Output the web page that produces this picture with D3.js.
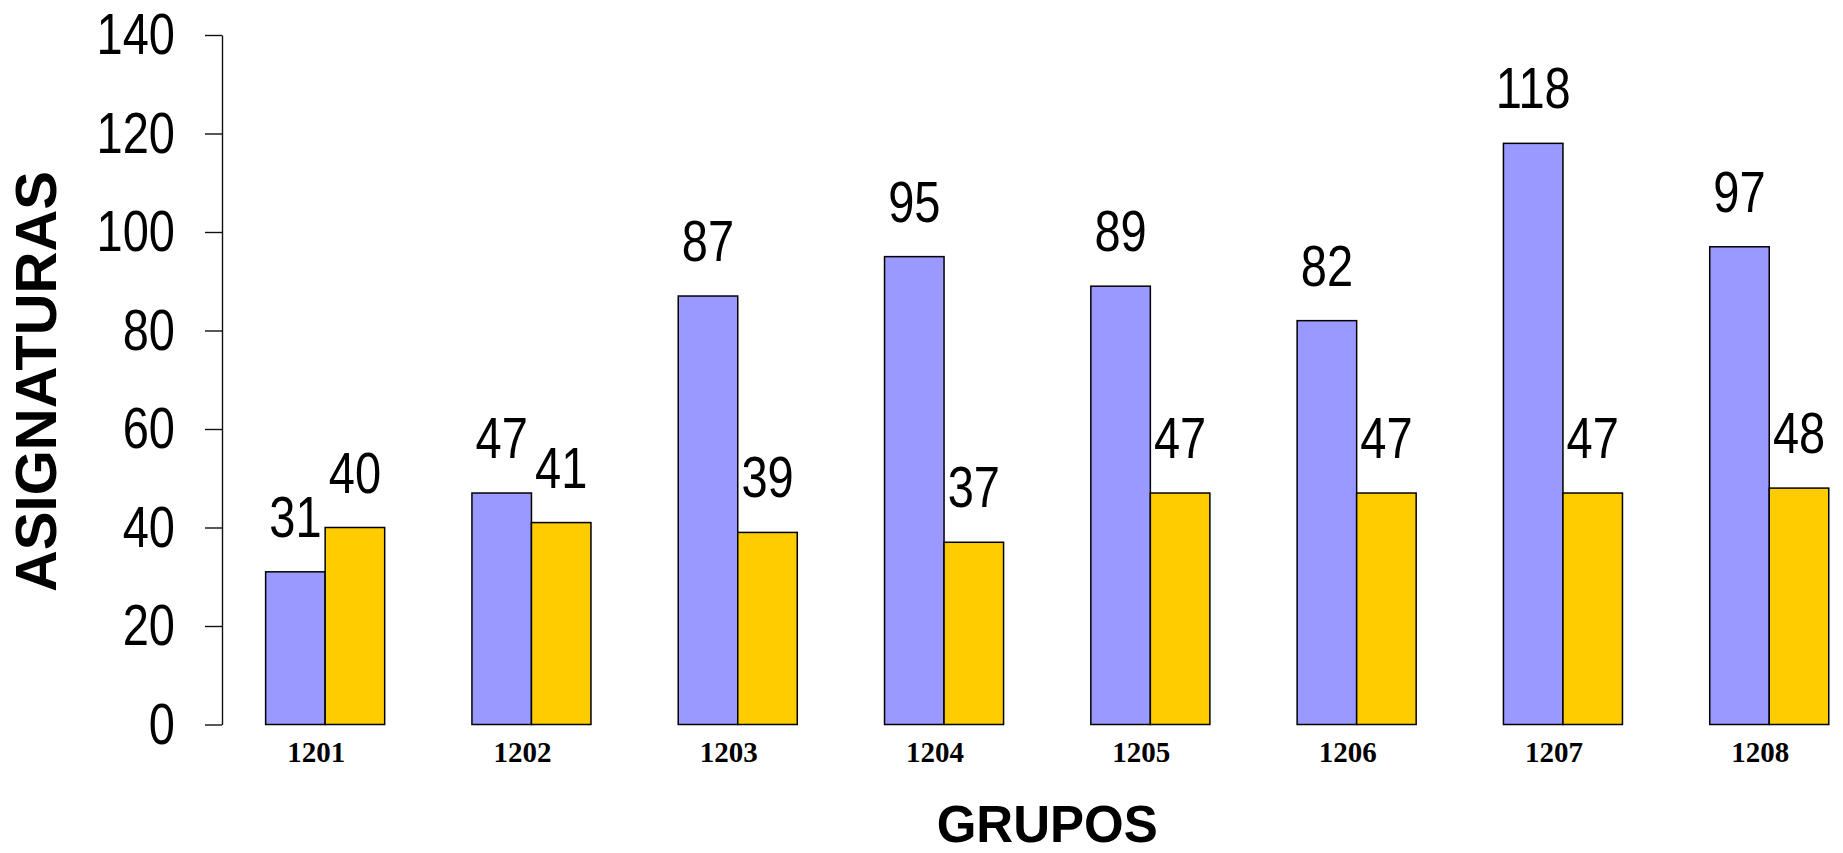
<!DOCTYPE html>
<html>
<head>
<meta charset="utf-8">
<script src="https://cdn.jsdelivr.net/npm/d3@7"></script>
<style>
  html, body { margin: 0; padding: 0; background: #fff; }
  svg { display: block; }
</style>
</head>
<body>
<svg id="chart" width="1843" height="853"></svg>
<script>
const groups = ["1201", "1202", "1203", "1204", "1205", "1206", "1207", "1208"];
const seriesA = [31, 47, 87, 95, 89, 82, 118, 97];
const seriesB = [40, 41, 39, 37, 47, 47, 47, 48];
const yTicks = [0, 20, 40, 60, 80, 100, 120, 140];
const yTitle = "ASIGNATURAS";
const xTitle = "GRUPOS";

const colors = ["#9999FF", "#FFCC00"];
const seriesKeys = ["a", "b"];

const svg = d3.select("#chart");

const x0 = d3.scaleBand().domain(groups).range([222, 1872.4]).paddingInner(0.423).paddingOuter(0.2115);
const x1 = d3.scaleBand().domain(seriesKeys).range([0, x0.bandwidth()]).padding(0);
const y = d3.scaleLinear().domain([0, 140]).range([724.5, 35]);

const rows = groups.map((g, i) => ({ g, vals: [{ k: "a", v: seriesA[i] }, { k: "b", v: seriesB[i] }] }));

// Axis
const yAxis = d3.axisLeft(y).tickValues(yTicks).tickSize(17).tickSizeOuter(0).tickFormat(d3.format("d"));
const ag = svg.append("g").attr("transform", "translate(222,0)").call(yAxis);
ag.select(".domain").attr("stroke", "#111").attr("stroke-width", 1.4);
ag.selectAll(".tick line").attr("stroke", "#111").attr("stroke-width", 1.4);
ag.selectAll(".tick text")
  .attr("x", null).attr("dy", null)
  .attr("transform", "translate(-47,18.5) scale(1,1.21)")
  .attr("fill", "#000")
  .style("font-family", "'Liberation Sans', Arial, sans-serif")
  .style("font-size", "47px")
  .attr("text-anchor", "end");

// Bars
const gGroups = svg.append("g").selectAll("g").data(rows).join("g")
  .attr("transform", d => `translate(${x0(d.g)},0)`);

gGroups.selectAll("rect").data(d => d.vals).join("rect")
  .attr("x", d => x1(d.k))
  .attr("y", d => y(d.v))
  .attr("width", x1.bandwidth())
  .attr("height", d => y(0) - y(d.v))
  .attr("fill", (d, i) => colors[i])
  .attr("stroke", "#000")
  .attr("stroke-width", 1.5);

// Value labels
gGroups.selectAll("text.val").data(d => d.vals).join("text")
  .attr("class", "val")
  .attr("transform", d => `translate(${x1(d.k) + x1.bandwidth() / 2},${y(d.v) - 35}) scale(1,1.21)`)
  .attr("text-anchor", "middle")
  .style("font-family", "'Liberation Sans', Arial, sans-serif")
  .style("font-size", "47px")
  .attr("fill", "#000")
  .text(d => d.v);

// Category labels
svg.append("g").selectAll("text").data(groups).join("text")
  .attr("transform", d => `translate(${x0(d) + x0.bandwidth() / 2 - 9},762) scale(1,1.05)`)
  .attr("text-anchor", "middle")
  .style("font-family", "'Liberation Serif', 'Times New Roman', serif")
  .style("font-weight", "bold")
  .style("font-size", "29px")
  .attr("fill", "#000")
  .text(d => d);

// Axis titles
svg.append("text")
  .attr("transform", `translate(${(x0.range()[0] + x0.range()[1]) / 2},842)`)
  .attr("text-anchor", "middle")
  .style("font-family", "'Liberation Sans', Arial, sans-serif")
  .style("font-weight", "bold")
  .style("font-size", "51px")
  .attr("fill", "#000")
  .text(xTitle);

svg.append("text")
  .attr("transform", "translate(56,381.5) rotate(-90)")
  .attr("text-anchor", "middle")
  .style("font-family", "'Liberation Sans', Arial, sans-serif")
  .style("font-weight", "bold")
  .style("font-size", "58px")
  .attr("fill", "#000")
  .text(yTitle);
</script>
</body>
</html>
